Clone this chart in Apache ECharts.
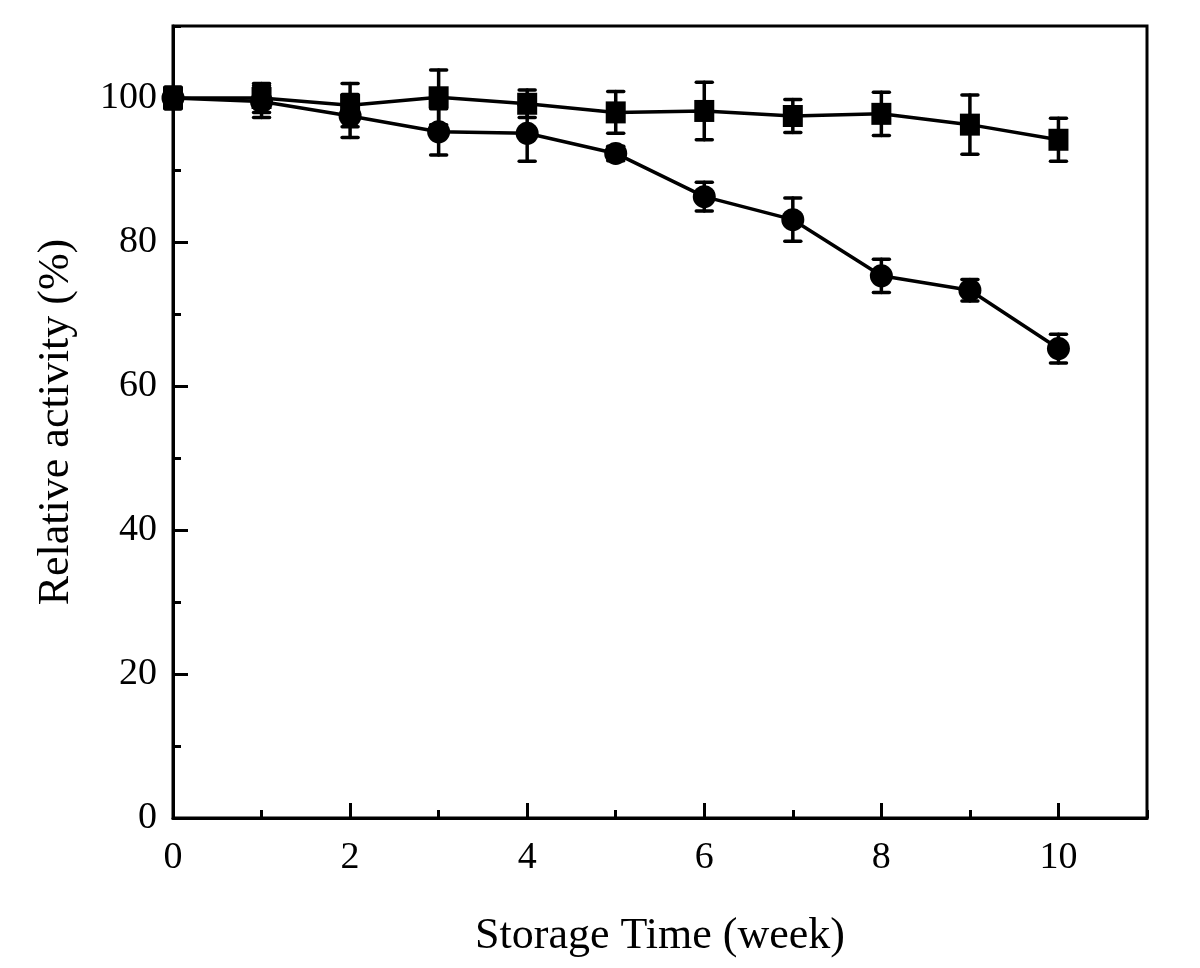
<!DOCTYPE html>
<html>
<head>
<meta charset="utf-8">
<script src="https://cdn.jsdelivr.net/npm/echarts@6/dist/echarts.min.js"></script>
<style>
html,body{margin:0;padding:0;background:#fff;}
#chart{width:1200px;height:968px;}
</style>
</head>
<body>
<div id="chart"></div>
<script>
const weeks = [0, 1, 2, 3, 4, 5, 6, 7, 8, 9, 10];
const squareValues = [100, 100, 99.0, 100.1, 99.2, 98.0, 98.2, 97.5, 97.8, 96.3, 94.2];
const squareErrors = [1.5, 2.0, 3.0, 3.8, 1.9, 2.9, 4.0, 2.3, 3.0, 4.1, 3.0];
const circleValues = [100, 99.5, 97.5, 95.3, 95.1, 92.3, 86.3, 83.1, 75.3, 73.3, 65.2];
const circleErrors = [1.5, 2.2, 3.0, 3.2, 3.9, 1.0, 2.0, 3.0, 2.3, 1.5, 2.0];
const xTitle = 'Storage Time (week)';
const yTitle = 'Relative activity (%)';

const FONT = '"Liberation Serif", "Times New Roman", serif';

function pairs(vals) { return weeks.map((w, i) => [w, vals[i]]); }
function errTriples(vals, errs) { return weeks.map((w, i) => [w, vals[i], errs[i]]); }

function errorRender(params, api) {
  const x = api.value(0), y = api.value(1), e = api.value(2);
  const top = api.coord([x, y + e]);
  const bot = api.coord([x, y - e]);
  const hw = 8;
  const style = { stroke: '#000', lineWidth: 3.5, fill: null, lineCap: 'round' };
  return {
    type: 'group',
    children: [
      { type: 'line', shape: { x1: top[0], y1: top[1], x2: bot[0], y2: bot[1] }, style: style },
      { type: 'line', shape: { x1: top[0] - hw, y1: top[1], x2: top[0] + hw, y2: top[1] }, style: style },
      { type: 'line', shape: { x1: bot[0] - hw, y1: bot[1], x2: bot[0] + hw, y2: bot[1] }, style: style }
    ]
  };
}

const chart = echarts.init(document.getElementById('chart'), null, { renderer: 'canvas' });
const axisLabelStyle = { fontFamily: FONT, fontSize: 38, color: '#000' };

chart.setOption({
  animation: false,
  backgroundColor: '#fff',
  grid: { left: 173, right: 53, top: 26, bottom: 150, show: true, borderColor: '#000', borderWidth: 3, backgroundColor: 'transparent' },
  xAxis: [
    {
      type: 'value', position: 'bottom', min: 0, max: 11, interval: 2,
      name: xTitle, nameLocation: 'middle', nameGap: 96,
      nameTextStyle: { fontFamily: FONT, fontSize: 44, color: '#000' },
      axisLine: { show: true, onZero: false, lineStyle: { color: '#000', width: 3 } },
      axisTick: { show: true, inside: true, length: 15, lineStyle: { color: '#000', width: 3 } },
      axisLabel: Object.assign({ margin: 21, showMaxLabel: false }, axisLabelStyle),
      splitLine: { show: false }
    },
    {
      type: 'value', position: 'bottom', min: 0, max: 11, interval: 1,
      axisLine: { show: false },
      axisTick: { show: true, inside: true, length: 8, lineStyle: { color: '#000', width: 3 } },
      axisLabel: { show: false },
      splitLine: { show: false }
    }
  ],
  yAxis: [
    {
      type: 'value', position: 'left', min: 0, max: 110, interval: 20,
      name: yTitle, nameLocation: 'middle', nameGap: 95, nameRotate: 90,
      nameTextStyle: { fontFamily: FONT, fontSize: 44, color: '#000' },
      axisLine: { show: true, onZero: false, lineStyle: { color: '#000', width: 3 } },
      axisTick: { show: true, inside: true, length: 15, lineStyle: { color: '#000', width: 3 } },
      axisLabel: Object.assign({ margin: 16, showMaxLabel: false }, axisLabelStyle),
      splitLine: { show: false }
    },
    {
      type: 'value', position: 'left', min: 0, max: 110, interval: 10,
      axisLine: { show: false },
      axisTick: { show: true, inside: true, length: 8, lineStyle: { color: '#000', width: 3 } },
      axisLabel: { show: false },
      splitLine: { show: false }
    }
  ],
  series: [
    {
      type: 'custom', name: 'squareErr', xAxisIndex: 0, yAxisIndex: 0,
      renderItem: errorRender, data: errTriples(squareValues, squareErrors), z: 2, silent: true
    },
    {
      type: 'custom', name: 'circleErr', xAxisIndex: 0, yAxisIndex: 0,
      renderItem: errorRender, data: errTriples(circleValues, circleErrors), z: 2, silent: true
    },
    {
      type: 'line', name: 'squares', xAxisIndex: 0, yAxisIndex: 0,
      data: pairs(squareValues), symbol: 'rect', symbolSize: [20, 22],
      lineStyle: { color: '#000', width: 3.5 }, itemStyle: { color: '#000' }, z: 3
    },
    {
      type: 'line', name: 'circles', xAxisIndex: 0, yAxisIndex: 0,
      data: pairs(circleValues), symbol: 'circle', symbolSize: 23,
      lineStyle: { color: '#000', width: 3.5 }, itemStyle: { color: '#000' }, z: 3
    }
  ]
});
</script>
</body>
</html>
